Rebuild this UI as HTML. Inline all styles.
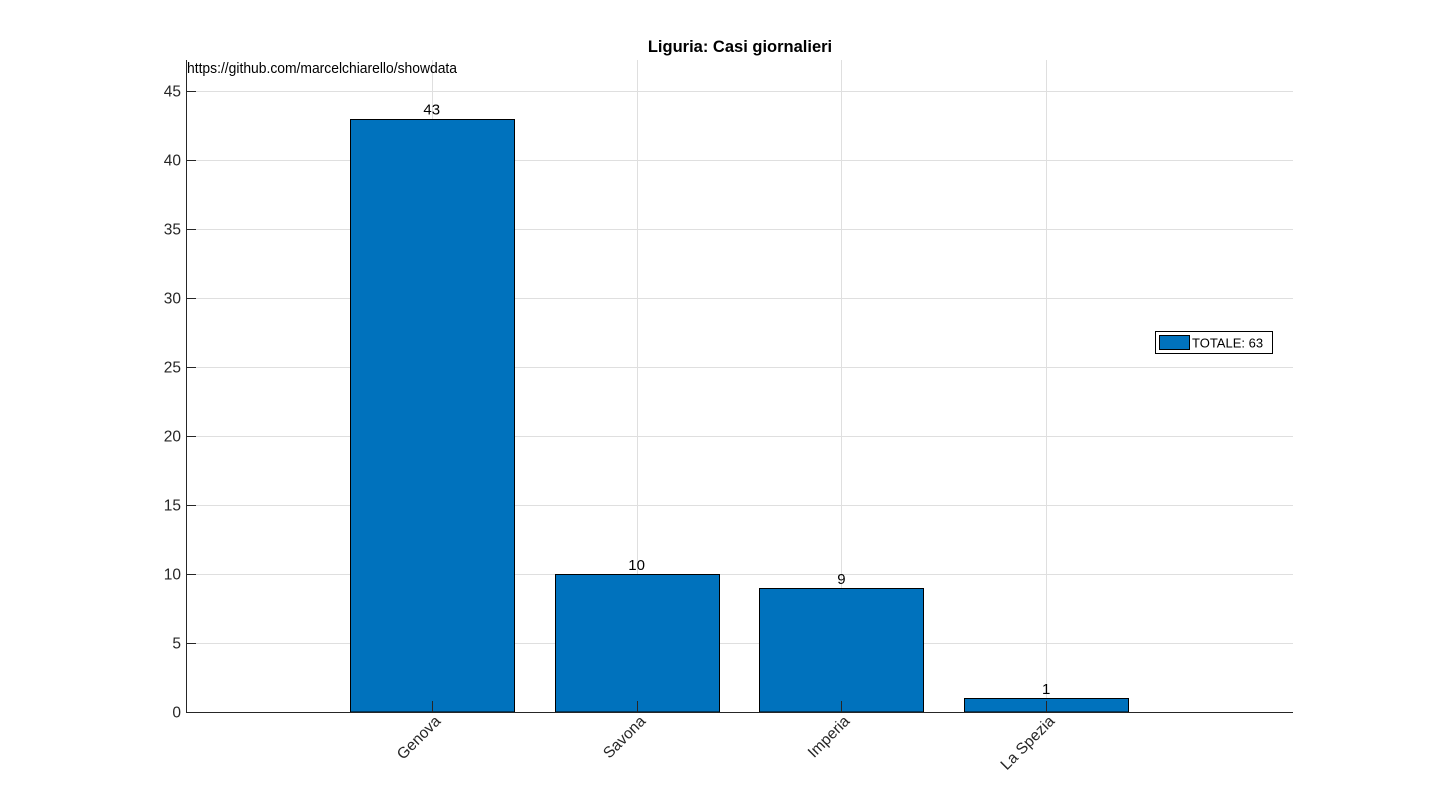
<!DOCTYPE html>
<html><head><meta charset="utf-8"><style>
html,body{margin:0;padding:0;background:#fff;}
svg{display:block;font-family:"Liberation Sans",Arial,sans-serif;}
</style></head><body>
<svg id="chart" width="1430" height="800">
<text x="740" y="52" text-anchor="middle" font-size="16.5" font-weight="bold" fill="#000">Liguria: Casi giornalieri</text>
<g id="grid"></g><g id="bars"></g><g id="axes"></g>
<text x="187" y="73" font-size="14.7" textLength="270" lengthAdjust="spacingAndGlyphs" fill="#000">https://github.com/marcelchiarello/showdata</text>
<g>
<rect x="1155.5" y="331.5" width="117" height="22" fill="#fff" stroke="#000" stroke-width="1"/>
<rect x="1159.5" y="335.5" width="30" height="14" fill="#0072bd" stroke="#000" stroke-width="1"/>
<text x="1192" y="347.5" font-size="13" fill="#000">TOTALE: 63</text>
</g>
</svg>
<script>
const categories=["Genova","Savona","Imperia","La Spezia"];
const values=[43,10,9,1];
const yTicks=[0,5,10,15,20,25,30,35,40,45];
const L=186,R=1292,T=60,B=712;
const xMin=-0.2,xMax=5.2,yMin=0,yMax=47.25;
const xs=v=>L+(v-xMin)/(xMax-xMin)*(R-L);
const ys=v=>B-(v-yMin)/(yMax-yMin)*(B-T);
const NS="http://www.w3.org/2000/svg";
function mk(tag,attrs,parent,text){const e=document.createElementNS(NS,tag);for(const k in attrs)e.setAttribute(k,attrs[k]);if(text!==undefined)e.textContent=text;parent.appendChild(e);return e;}
const grid=document.getElementById('grid'),bars=document.getElementById('bars'),axes=document.getElementById('axes');
yTicks.forEach(t=>{if(t===0)return;const y=Math.round(ys(t))+0.5;
const g=mk('line',{x1:L,x2:R+1,y1:y,y2:y,stroke:'#dfdfdf','stroke-width':1},grid);

});
categories.forEach((c,i)=>{const x=Math.round(xs(i+1))+0.5;
const g=mk('line',{x1:x,x2:x,y1:T,y2:B,stroke:'#dfdfdf','stroke-width':1},grid);

});
const bw=0.8;
values.forEach((v,i)=>{const x0=Math.round(xs(i+1-bw/2))+0.5,x1=Math.round(xs(i+1+bw/2))+0.5,y=Math.round(ys(v))+0.5;
const r=mk('rect',{x:x0,y:y,width:x1-x0,height:B-y,fill:'#0072bd',stroke:'#000','stroke-width':1},bars);


const t=mk('text',{x:xs(i+1),y:ys(v)-4,'text-anchor':'middle','font-size':15,fill:'#000'},bars,String(v));

});
const ax=mk('path',{d:`M${L+0.5},${T} V${B+0.5} H${R+1}`,fill:'none',stroke:'#262626','stroke-width':1},axes);


yTicks.forEach(t=>{const y=Math.round(ys(t))+0.5;
mk('line',{x1:L,x2:L+10,y1:y,y2:y,stroke:'#262626'},axes);
const tx=mk('text',{x:L-5,y:y+5,'text-anchor':'end','font-size':15.5,fill:'#262626'},axes,String(t));

});
categories.forEach((c,i)=>{const x=Math.round(xs(i+1))+0.5;
mk('line',{x1:x,x2:x,y1:B,y2:B-11,stroke:'#262626'},axes);
const tx=mk('text',{x:x+9,y:B+10,'text-anchor':'end','font-size':15.5,fill:'#262626',transform:`rotate(-45 ${x+9} ${B+10})`},axes,c);

});
</script>
</body></html>
